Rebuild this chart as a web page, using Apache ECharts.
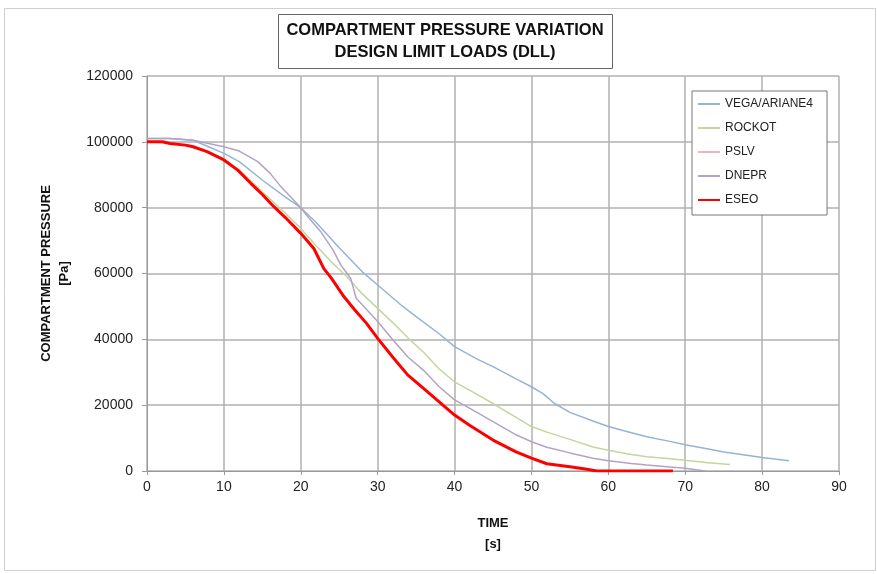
<!DOCTYPE html>
<html>
<head>
<meta charset="utf-8">
<script src="https://cdn.jsdelivr.net/npm/echarts@6/dist/echarts.min.js"></script>
<style>
  html, body { margin: 0; padding: 0; background: #fff; }
  #chart { width: 877px; height: 574px; }
</style>
</head>
<body>
<div id="chart"></div>
<script>
// time [s] / pressure [Pa]
var vegaTime = [0, 3, 6, 8, 10, 12, 15, 18, 20, 22, 25, 28, 30, 33, 35, 38, 40, 43, 45, 48, 50, 51.5, 53, 55, 58, 60, 63, 65, 68, 70, 73, 75, 78, 80, 83.5];
var vegaPressure = [101000, 101000, 100500, 98500, 96500, 94000, 88400, 83200, 80000, 75500, 67800, 60500, 56500, 50500, 46900, 41700, 37800, 33900, 31700, 28000, 25600, 23500, 20500, 17800, 15200, 13500, 11600, 10400, 9000, 8000, 6700, 5800, 4800, 4100, 3100];

var rockotTime = [0, 3, 5, 8, 10, 12, 15, 18, 20, 22, 24, 26, 28, 30, 32, 34, 36, 38, 40, 42, 45, 48, 50, 52, 55, 58, 60, 63, 65, 68, 70, 73, 75.8];
var rockotPressure = [100000, 99500, 99000, 97000, 94800, 91500, 84800, 78300, 73700, 68400, 63500, 59000, 53800, 49400, 45000, 40300, 36000, 31000, 27100, 24500, 20500, 16300, 13500, 11800, 9600, 7300, 6300, 5000, 4300, 3700, 3300, 2500, 2000];

var dneprTime = [0, 3, 6, 8, 10, 12, 14.4, 16, 17.4, 19, 20, 21, 22.6, 24.2, 25.2, 26.5, 27.2, 28, 30, 32, 33.9, 36, 38, 40, 42, 45, 48, 50, 52, 55, 58, 60, 63, 65, 68, 70, 72.6];
var dneprPressure = [101000, 101000, 100500, 99500, 98500, 97200, 94000, 90500, 86400, 82500, 80000, 77000, 72700, 67100, 62600, 58500, 52500, 50500, 45400, 39800, 34700, 30500, 25600, 21600, 19000, 15000, 11000, 8900, 7200, 5500, 3900, 3100, 2300, 1800, 1200, 800, 0];

var eseoTime = [0, 2, 3, 5, 6, 7.8, 10, 11.8, 13.5, 15, 16.5, 18, 20, 21.7, 23, 24, 25.6, 27, 28.5, 30, 32, 33.9, 36, 38, 40, 42, 45, 48, 50, 52, 55, 57, 58.5, 68.4];
var eseoPressure = [100000, 100000, 99500, 99000, 98500, 97000, 94500, 91400, 87400, 84000, 80300, 77000, 72200, 67600, 61500, 58500, 53000, 49000, 45000, 40300, 34500, 29200, 25000, 21000, 17000, 13800, 9400, 5800, 3900, 2200, 1300, 600, 0, 0];

// PSLV is hidden under the ESEO line in the picture
var pslvTime = [0, 2, 3, 5, 6, 7.8, 10, 11.8, 13.5, 15, 16.5, 18, 20, 21.7, 23, 24, 25.6, 27, 28.5, 30, 32, 33.9, 36, 38, 40, 42, 45, 48, 50, 52, 55, 57, 58.5, 68.4];
var pslvPressure = [100000, 100000, 99500, 99000, 98500, 97000, 94500, 91400, 87400, 84000, 80300, 77000, 72200, 67600, 61500, 58500, 53000, 49000, 45000, 40300, 34500, 29200, 25000, 21000, 17000, 13800, 9400, 5800, 3900, 2200, 1300, 600, 0, 0];

function pairs(t, p) {
  return t.map(function (v, i) { return [v, p[i]]; });
}

var font = '"Liberation Sans", Arial, sans-serif';

var chart = echarts.init(document.getElementById('chart'));
var option = {
  animation: false,
  backgroundColor: '#fff',
  graphic: [
    {
      type: 'rect',
      shape: { x: 4.5, y: 8.5, width: 871, height: 562 },
      style: { fill: 'none', stroke: '#cfcfcf', lineWidth: 1 },
      z: -1
    },
    // title box
    {
      type: 'rect',
      shape: { x: 278.5, y: 14.5, width: 334, height: 54 },
      style: { fill: '#fff', stroke: '#666', lineWidth: 1 },
      z: 10
    },
    {
      type: 'text',
      x: 445,
      y: 19,
      z: 11,
      style: {
        text: 'COMPARTMENT PRESSURE VARIATION\nDESIGN LIMIT LOADS (DLL)',
        align: 'center',
        verticalAlign: 'top',
        font: 'bold 16.5px "Liberation Sans", Arial, sans-serif',
        lineHeight: 22,
        fill: '#111'
      }
    }
  ],
  legend: {
    orient: 'vertical',
    left: 692,
    top: 91,
    padding: [7, 14, 9, 5],
    itemGap: 12,
    itemWidth: 22,
    itemHeight: 14,
    borderWidth: 1,
    borderColor: '#777',
    backgroundColor: '#fff',
    itemStyle: { opacity: 0 },
    textStyle: { fontFamily: font, fontSize: 12, color: '#222' },
    data: ['VEGA/ARIANE4', 'ROCKOT', 'PSLV', 'DNEPR', 'ESEO']
  },
  grid: {
    left: 147,
    right: 38,
    top: 76,
    bottom: 103,
    containLabel: false
  },
  xAxis: {
    type: 'value',
    min: 0,
    max: 90,
    interval: 10,
    name: 'TIME\n[s]',
    nameLocation: 'middle',
    nameGap: 42,
    nameTextStyle: { fontFamily: font, fontSize: 13, fontWeight: 'bold', color: '#111', lineHeight: 21 },
    axisLine: { lineStyle: { color: '#999' } },
    axisTick: { show: true, length: 4, lineStyle: { color: '#999' } },
    axisLabel: { fontFamily: font, fontSize: 14, color: '#222', margin: 9 },
    splitLine: { show: true, lineStyle: { color: '#b0b0b0', width: 1.5 } }
  },
  yAxis: {
    type: 'value',
    min: 0,
    max: 120000,
    interval: 20000,
    name: 'COMPARTMENT PRESSURE\n[Pa]',
    nameLocation: 'middle',
    nameGap: 74,
    nameTextStyle: { fontFamily: font, fontSize: 13, fontWeight: 'bold', color: '#111', lineHeight: 18 },
    axisLine: { show: true, lineStyle: { color: '#999' } },
    axisTick: { show: true, length: 5, lineStyle: { color: '#999' } },
    axisLabel: {
      fontFamily: font,
      fontSize: 14,
      color: '#222',
      margin: 14,
      formatter: function (v) { return String(v); }
    },
    splitLine: { show: true, lineStyle: { color: '#b0b0b0', width: 1.5 } }
  },
  series: [
    {
      name: 'VEGA/ARIANE4',
      type: 'line',
      symbol: 'none',
      color: '#95b3d7',
      lineStyle: { width: 1.5 },
      data: pairs(vegaTime, vegaPressure)
    },
    {
      name: 'ROCKOT',
      type: 'line',
      symbol: 'none',
      color: '#c3d69b',
      lineStyle: { width: 1.5 },
      data: pairs(rockotTime, rockotPressure)
    },
    {
      name: 'PSLV',
      type: 'line',
      symbol: 'none',
      color: '#e6b9b8',
      lineStyle: { width: 1.5 },
      data: pairs(pslvTime, pslvPressure)
    },
    {
      name: 'DNEPR',
      type: 'line',
      symbol: 'none',
      color: '#b3a2c7',
      lineStyle: { width: 1.5 },
      data: pairs(dneprTime, dneprPressure)
    },
    {
      name: 'ESEO',
      type: 'line',
      symbol: 'none',
      color: '#ff0000',
      lineStyle: { width: 3 },
      data: pairs(eseoTime, eseoPressure)
    }
  ]
};
chart.setOption(option);
</script>
</body>
</html>
